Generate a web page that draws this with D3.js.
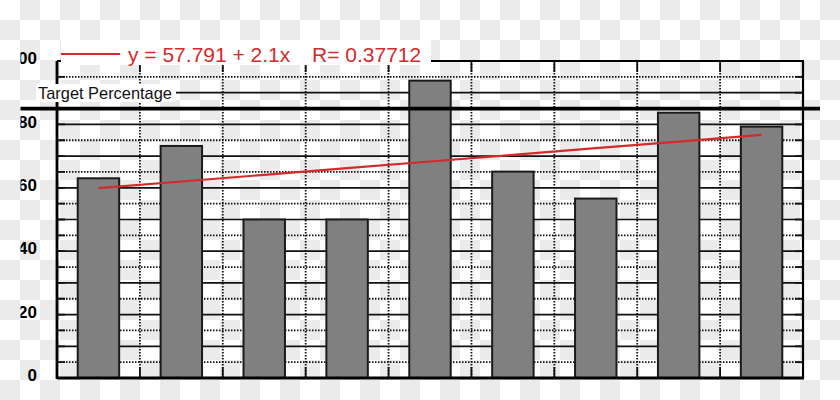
<!DOCTYPE html>
<html>
<head>
<meta charset="utf-8">
<script src="https://cdn.jsdelivr.net/npm/d3@7"></script>
<style>
  body { margin: 0; background: #fff; }
  svg { display: block; }
</style>
</head>
<body>
<svg id="chart" width="840" height="400"></svg>
<script>
var categories = ["1", "2", "3", "4", "5", "6", "7", "8", "9"];
var values = [63.0, 73.2, 50.0, 50.0, 93.8, 65.1, 56.6, 83.7, 79.3];
var yTickLabels = [0, 20, 40, 60, 80, 100];
var targetValue = 85;
var targetLabel = "Target Percentage";
var fitIntercept = 57.791,
    fitSlope = 2.1,
    fitR = 0.37712;

var svg = d3.select("#chart"),
    width = 840,
    height = 400,
    plotLeft = 57,
    plotRight = 803,
    plotTop = 61,
    plotBottom = 378;

var x = d3.scaleBand()
  .domain(categories)
  .range([plotLeft, plotRight])
  .paddingInner(0.5)
  .paddingOuter(0.25);

var y = d3.scaleLinear()
  .domain([0, 100])
  .range([plotBottom, plotTop]);

var defs = svg.append("defs");

// checkerboard behind everything (transparent png look)
var checker = defs.append("pattern")
  .attr("id", "checker")
  .attr("width", 40)
  .attr("height", 40)
  .attr("patternUnits", "userSpaceOnUse");
checker.append("rect").attr("width", 40).attr("height", 40).attr("fill", "#fff");
checker.append("rect").attr("x", 20).attr("width", 20).attr("height", 20).attr("fill", "#ebebeb");
checker.append("rect").attr("y", 20).attr("width", 20).attr("height", 20).attr("fill", "#ebebeb");

defs.append("clipPath").attr("id", "crop")
  .append("rect").attr("x", 20.5).attr("y", 0).attr("width", width - 20.5).attr("height", height);

svg.append("rect")
  .attr("width", width)
  .attr("height", height)
  .attr("fill", "url(#checker)");

var root = svg.append("g").attr("clip-path", "url(#crop)");

/*
  Grid
*/
var gridValues = y.ticks(20);
var grid = root.append("g");

grid.selectAll("line.h")
  .data(gridValues)
  .enter()
  .append("line")
  .attr("x1", plotLeft).attr("x2", plotRight)
  .attr("y1", function(d) { return y(d); })
  .attr("y2", function(d) { return y(d); })
  .attr("stroke", "#111")
  .attr("stroke-width", function(d) { return d % 10 === 0 ? 1.7 : 1.8; })
  .attr("stroke-dasharray", function(d) { return d % 10 === 0 ? null : "1.5,1.5"; });

var step = x.step();
var bounds = categories.slice(1).map(function(c) { return x(c) - step * 0.25; });

grid.selectAll("line.v")
  .data(bounds)
  .enter()
  .append("line")
  .attr("x1", function(d) { return d; })
  .attr("x2", function(d) { return d; })
  .attr("y1", plotTop).attr("y2", plotBottom)
  .attr("stroke", "#111")
  .attr("stroke-width", 1.8)
  .attr("stroke-dasharray", "1.5,1.5");

// inward ticks on all four sides
var ticks = root.append("g").attr("stroke", "#111").attr("stroke-width", 1.8);
gridValues.forEach(function(v) {
  ticks.append("line").attr("x1", plotLeft).attr("x2", plotLeft + 8).attr("y1", y(v)).attr("y2", y(v));
  ticks.append("line").attr("x1", plotRight - 8).attr("x2", plotRight).attr("y1", y(v)).attr("y2", y(v));
});
bounds.forEach(function(b) {
  ticks.append("line").attr("x1", b).attr("x2", b).attr("y1", plotTop).attr("y2", plotTop + 11);
  ticks.append("line").attr("x1", b).attr("x2", b).attr("y1", plotBottom - 11).attr("y2", plotBottom);
});

/*
  Bars
*/
root.append("g")
  .selectAll("rect")
  .data(values)
  .enter()
  .append("rect")
  .attr("x", function(d, i) { return x(categories[i]); })
  .attr("y", function(d) { return y(d); })
  .attr("width", x.bandwidth())
  .attr("height", function(d) { return y(0) - y(d); })
  .attr("fill", "#808080")
  .attr("stroke", "#1a1a1a")
  .attr("stroke-width", 2);

// frame
var frame = root.append("g").attr("stroke", "#000").attr("fill", "none");
frame.append("line").attr("x1", plotLeft).attr("x2", plotLeft).attr("y1", plotTop).attr("y2", plotBottom + 1).attr("stroke-width", 2.8);
frame.append("line").attr("x1", plotLeft).attr("x2", plotRight + 1).attr("y1", plotBottom).attr("y2", plotBottom).attr("stroke-width", 2.8);
frame.append("line").attr("x1", plotRight).attr("x2", plotRight).attr("y1", plotTop).attr("y2", plotBottom).attr("stroke-width", 2.2);
frame.append("line").attr("x1", plotLeft).attr("x2", plotRight + 1).attr("y1", plotTop).attr("y2", plotTop).attr("stroke-width", 2.2);

// target line across the whole chart
root.append("line")
  .attr("x1", 0).attr("x2", plotRight + 17)
  .attr("y1", y(targetValue)).attr("y2", y(targetValue))
  .attr("stroke", "#000")
  .attr("stroke-width", 3.8);

/*
  Regression line
*/
var fitLine = d3.line()
  .x(function(d) { return x(d) + x.bandwidth() / 2; })
  .y(function(d, i) { return y(fitIntercept + fitSlope * (i + 1)); });

root.append("path")
  .attr("d", fitLine(categories))
  .attr("fill", "none")
  .attr("stroke", "#d42a2a")
  .attr("stroke-width", 2.2);

/*
  Y labels
*/
root.append("g")
  .selectAll("text")
  .data(yTickLabels)
  .enter()
  .append("text")
  .attr("x", 37)
  .attr("y", function(d) { return y(d) - 3; })
  .attr("dy", "0.36em")
  .attr("text-anchor", "end")
  .attr("font-family", "Liberation Sans, Arial, sans-serif")
  .attr("font-weight", "bold")
  .attr("font-size", 17)
  .attr("fill", "#000")
  .text(function(d) { return d; });

/*
  Legend and target label
*/
var legend = root.append("g");
legend.append("rect")
  .attr("x", 61).attr("y", 40)
  .attr("width", 370).attr("height", 25)
  .attr("fill", "#fff");
legend.append("line")
  .attr("x1", 61).attr("x2", 120)
  .attr("y1", 54).attr("y2", 54)
  .attr("stroke", "#d42a2a")
  .attr("stroke-width", 1.8);
legend.append("text")
  .attr("x", 128).attr("y", 62)
  .attr("font-family", "Liberation Sans, Arial, sans-serif")
  .attr("font-size", 21)
  .attr("fill", "#d42a2a")
  .text("y = " + fitIntercept + " + " + fitSlope + "x");
legend.append("text")
  .attr("x", 312).attr("y", 62)
  .attr("font-family", "Liberation Sans, Arial, sans-serif")
  .attr("font-size", 21)
  .attr("fill", "#d42a2a")
  .text("R= " + fitR);

var target = root.append("g");
target.append("rect")
  .attr("x", 36).attr("y", 84)
  .attr("width", 140).attr("height", 18)
  .attr("fill", "#fff");
target.append("text")
  .attr("x", 38).attr("y", y(90) + 6)
  .attr("font-family", "Liberation Sans, Arial, sans-serif")
  .attr("font-size", 16.4)
  .attr("fill", "#111")
  .text(targetLabel);
</script>
</body>
</html>
